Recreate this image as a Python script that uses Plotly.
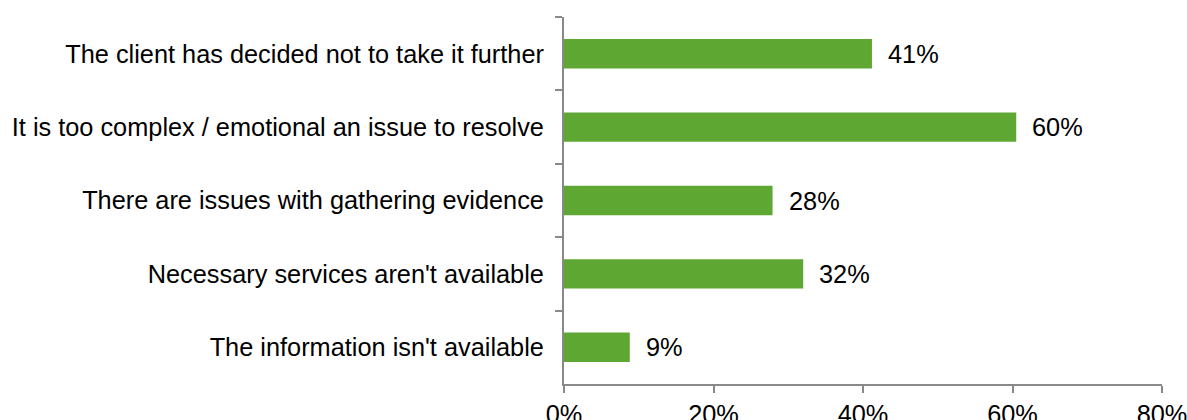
import plotly.graph_objects as go

categories = [
    "The client has decided not to take it further",
    "It is too complex / emotional an issue to resolve",
    "There are issues with gathering evidence",
    "Necessary services aren't available",
    "The information isn't available",
]
values = [41.2, 60.5, 27.9, 32.0, 8.8]
value_labels = ["41%", "60%", "28%", "32%", "9%"]
x_ticks = [0, 20, 40, 60, 80]
x_tick_labels = ["0%", "20%", "40%", "60%", "80%"]

FONT = "Liberation Sans, Arial, sans-serif"
AXIS_COLOR = "#898989"
FS = 25.33

fig = go.Figure()
fig.add_trace(go.Bar(
    y=categories,
    x=values,
    orientation="h",
    marker=dict(color="#5FA733", line=dict(width=0)),
    hoverinfo="skip",
))

for cat, v, lab in zip(categories, values, value_labels):
    fig.add_annotation(
        x=v, y=cat, xref="x", yref="y",
        text=lab, showarrow=False,
        xanchor="left", yanchor="middle", xshift=14,
        font=dict(family=FONT, size=FS, color="#000000"),
    )

fig.update_layout(
    width=1187, height=420,
    margin=dict(l=564, r=25, t=17, b=36),
    paper_bgcolor="white", plot_bgcolor="white",
    bargap=0.6,
    showlegend=False,
    font=dict(family=FONT, size=FS, color="#000000"),
)
fig.update_xaxes(
    range=[0, 80],
    tickvals=x_ticks, ticktext=x_tick_labels,
    showgrid=False, zeroline=False,
    showline=True, linecolor=AXIS_COLOR, linewidth=2,
    ticks="outside", ticklen=7, tickwidth=2, tickcolor=AXIS_COLOR,
    tickfont=dict(family=FONT, size=FS, color="#000000"),
    ticklabeloverflow="allow",
    automargin=False,
)
fig.update_yaxes(
    autorange="reversed",
    showgrid=False, zeroline=False,
    showline=True, linecolor=AXIS_COLOR, linewidth=2,
    ticks="outside", ticklen=7, tickwidth=2, tickcolor=AXIS_COLOR,
    tickson="boundaries",
    ticklabelstandoff=13,
    tickfont=dict(family=FONT, size=FS, color="#000000"),
    automargin=False,
)

fig.write_html(
    "out.html",
    config={"displayModeBar": False},
    post_script="document.body.style.margin='0';document.body.style.overflow='hidden';",
)
